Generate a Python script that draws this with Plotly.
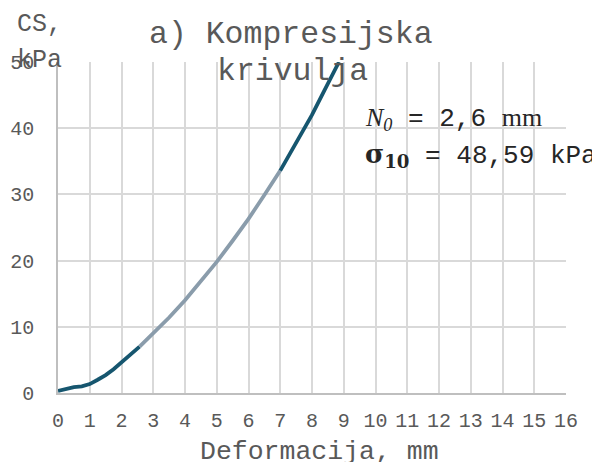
import plotly.graph_objects as go

# Data
deformacija_mm = [0.0, 0.25, 0.5, 0.75, 1.0, 1.25, 1.5, 1.75, 2.0, 2.3, 2.57, 3.0, 3.5,
                  4.0, 4.5, 5.0, 5.5, 6.0, 6.5, 7.0, 7.5, 8.0, 8.4, 8.85]
cs_kpa = [0.3, 0.6, 0.9, 1.0, 1.35, 2.0, 2.7, 3.6, 4.6, 5.8, 7.0, 9.0, 11.4,
          14.0, 16.8, 19.8, 23.0, 26.3, 29.9, 33.6, 37.7, 42.0, 45.8, 50.0]
# index boundaries where the line colour changes
seg_bounds = [0, 10, 19, 23]
seg_colors = ["#16566f", "#8a9cab", "#16566f"]

x_ticks = list(range(0, 17))
y_ticks = [0, 10, 20, 30, 40, 50]

MONO = "Liberation Mono, Courier New, monospace"
GRAY = "#595959"

fig = go.Figure()
for i, col in enumerate(seg_colors):
    a, b = seg_bounds[i], seg_bounds[i + 1]
    fig.add_trace(go.Scatter(
        x=deformacija_mm[a:b + 1], y=cs_kpa[a:b + 1], mode="lines",
        line=dict(color=col, width=3.8),
        showlegend=False, hoverinfo="skip"))

# page body has an 8px default margin, so the figure is 8px smaller
fig.update_layout(
    width=592, height=454,
    margin=dict(l=50, r=34, t=54, b=69),
    paper_bgcolor="white", plot_bgcolor="white",
    font=dict(family=MONO, color=GRAY, size=20),
    xaxis=dict(range=[0, 16], tickvals=x_ticks, showgrid=True, gridcolor="#d9d9d9",
               gridwidth=1.5, showline=True, linecolor="#bfbfbf", linewidth=1.5,
               zeroline=False, ticks="", tickfont=dict(size=20, color=GRAY),
               ticklabelstandoff=8, automargin=False, fixedrange=True),
    yaxis=dict(range=[0, 50], tickvals=y_ticks, showgrid=True, gridcolor="#d9d9d9",
               gridwidth=1.5, showline=True, linecolor="#bfbfbf", linewidth=1.5,
               zeroline=False, ticks="", tickfont=dict(size=20, color=GRAY),
               ticklabelstandoff=18, automargin=False, fixedrange=True),
)

def px_x(p):
    return (p - 58.0) / 508.0

def px_y(p):
    return (393.0 - p) / 331.0

annots = [
    dict(text="a) Kompresijska", x=px_x(291), y=px_y(34), size=31.5, xanchor="center", color=GRAY),
    dict(text="krivulja", x=px_x(292), y=px_y(71), size=31.5, xanchor="center", color=GRAY),
    dict(text="CS,", x=px_x(15), y=px_y(24), size=25, xanchor="left", color=GRAY),
    dict(text="kPa", x=px_x(15), y=px_y(61), size=25, xanchor="left", color=GRAY),
    dict(text="Deformacija, mm", x=px_x(319), y=px_y(452), size=26.5, xanchor="center", color=GRAY),
    dict(text="<i style=\"font-family:'Liberation Serif'\">N<sub>0</sub></i> = 2,6 "
              "<span style=\"font-family:'Liberation Serif'\">mm</span>",
         x=px_x(363), y=px_y(119), size=26, xanchor="left", color="#262626"),
    dict(text="<b style=\"font-family:'DejaVu Serif'\">σ<sub>10</sub></b> = 48,59 kPa",
         x=px_x(363), y=px_y(155), size=26, xanchor="left", color="#262626"),
]
for a in annots:
    fig.add_annotation(text=a["text"], x=a["x"], y=a["y"], xref="paper", yref="paper",
                       xanchor=a["xanchor"], yanchor="middle", showarrow=False,
                       font=dict(family=MONO, size=a["size"], color=a["color"]))

fig.write_html("out.html")
